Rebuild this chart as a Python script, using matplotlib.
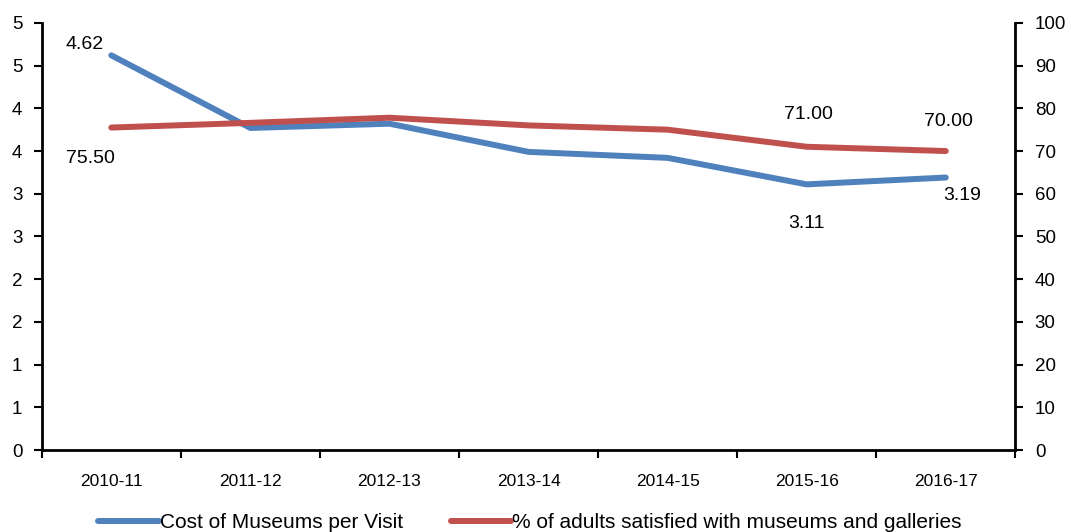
import math
import matplotlib
matplotlib.use("Agg")
import matplotlib.pyplot as plt
from matplotlib.ticker import FuncFormatter, MultipleLocator, FixedLocator

plt.rcParams['font.family'] = ['Liberation Sans', 'DejaVu Sans']

years = ['2010-11', '2011-12', '2012-13', '2013-14', '2014-15', '2015-16', '2016-17']
cost_per_visit = [4.62, 3.77, 3.82, 3.49, 3.42, 3.11, 3.19]
satisfied_pct = [75.5, 76.6, 77.8, 76.0, 75.0, 71.0, 70.0]

blue = '#4F81BD'
red = '#C0504D'

fig = plt.figure(figsize=(10.71, 5.32), dpi=100)
ax = fig.add_axes([0.039, 0.154, 0.909, 0.803])
ax2 = ax.twinx()

x = list(range(len(years)))
l1, = ax.plot(x, cost_per_visit, color=blue, lw=4.3, solid_capstyle='round',
              label='Cost of Museums per Visit', zorder=3)
l2, = ax2.plot(x, satisfied_pct, color=red, lw=4.3, solid_capstyle='round',
               label='% of adults satisfied with museums and galleries', zorder=3)

ax.set_xlim(-0.5, len(years) - 0.5)
ax.set_ylim(0, 5)
ax2.set_ylim(0, 100)

# category labels centred, tick marks on the boundaries
ax.set_xticks(x)
ax.set_xticklabels(years, fontsize=12.5)
ax.xaxis.set_minor_locator(FixedLocator([i - 0.5 for i in range(len(years) + 1)]))
ax.tick_params(axis='x', which='major', length=0, pad=17)
ax.tick_params(axis='x', which='minor', length=6, width=1.5, direction='out')

ax.yaxis.set_major_locator(MultipleLocator(0.5))
ax.yaxis.set_major_formatter(FuncFormatter(lambda v, p: str(int(math.floor(v + 0.5)))))
ax.tick_params(axis='y', length=6, width=1.5, labelsize=13.5, pad=8)
ax2.yaxis.set_major_locator(MultipleLocator(10))
ax2.tick_params(axis='y', length=6, width=1.5, labelsize=13.5, pad=8)

for a in (ax, ax2):
    a.spines['top'].set_visible(False)
    for s in ('left', 'right', 'bottom'):
        a.spines[s].set_linewidth(2)
ax.spines['right'].set_visible(False)
ax2.spines['left'].set_visible(False)
ax2.spines['bottom'].set_visible(False)

# value labels for first and last two points
lab = dict(fontsize=14, ha='center', va='center', zorder=5)
ax.annotate(f'{cost_per_visit[0]:.2f}', (0, cost_per_visit[0]), xytext=(-19, 8),
            textcoords='offset points', **lab)
ax2.annotate(f'{satisfied_pct[0]:.2f}', (0, satisfied_pct[0]), xytext=(-15, -22),
             textcoords='offset points', **lab)
ax2.annotate(f'{satisfied_pct[5]:.2f}', (5, satisfied_pct[5]), xytext=(1, 23),
             textcoords='offset points', **lab)
ax2.annotate(f'{satisfied_pct[6]:.2f}', (6, satisfied_pct[6]), xytext=(2, 21),
             textcoords='offset points', **lab)
ax.annotate(f'{cost_per_visit[5]:.2f}', (5, cost_per_visit[5]), xytext=(0, -28),
            textcoords='offset points', **lab)
ax.annotate(f'{cost_per_visit[6]:.2f}', (6, cost_per_visit[6]), xytext=(12, -13),
            textcoords='offset points', **lab)

fig.legend(handles=[l1, l2], loc='lower center', bbox_to_anchor=(0.495, -0.035),
           ncol=2, frameon=False, fontsize=15, handlelength=2.9,
           handletextpad=0.05, columnspacing=2.3)

fig.savefig('out.png', dpi=100)
